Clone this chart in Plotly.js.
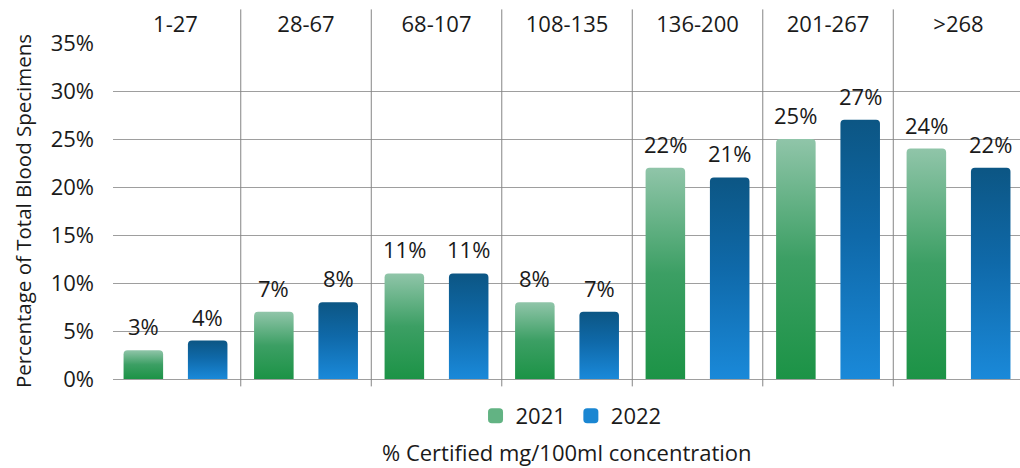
<!DOCTYPE html>
<html>
<head>
<meta charset="utf-8">
<script src="https://cdn.plot.ly/plotly-3.0.1.min.js"></script>
<style>
  html, body { margin: 0; padding: 0; background: #ffffff; }
  #chart { width: 1020px; height: 468px; }
</style>
</head>
<body>
<div id="chart"></div>
<script>
// ---- data ----
const categories = ['1-27', '28-67', '68-107', '108-135', '136-200', '201-267', '>268'];
const values2021 = [3, 7, 11, 8, 22, 25, 24];
const values2022 = [4, 8, 11, 7, 21, 27, 22];
const seriesNames = ['2021', '2022'];
const yTickValues = [0, 5, 10, 15, 20, 25, 30, 35];
const yTickLabels = ['0%', '5%', '10%', '15%', '20%', '25%', '30%', '35%'];
const xAxisTitle = '% Certified mg/100ml concentration';
const yAxisTitle = 'Percentage of Total Blood Specimens';

// ---- style ----
const FONT = 'Open Sans, Noto Sans, sans-serif';
const TEXT = '#1a1a1a';
const BAR_W = 0.303;
const HALF_GAP = 0.095;

const traces = [
  {
    type: 'bar', name: seriesNames[0], x: categories, y: values2021,
    width: BAR_W, offset: -(BAR_W + HALF_GAP),
    marker: { color: '#62b383', cornerradius: 4 },
    hoverinfo: 'skip'
  },
  {
    type: 'bar', name: seriesNames[1], x: categories, y: values2022,
    width: BAR_W, offset: HALF_GAP,
    marker: { color: '#1a86d2', cornerradius: 4 },
    hoverinfo: 'skip'
  }
];

const annotations = [];
const centerShift = BAR_W / 2 + HALF_GAP;
categories.forEach((c, i) => {
  annotations.push({ x: i - centerShift, y: values2021[i], xref: 'x', yref: 'y',
    text: values2021[i] + '%', showarrow: false, yanchor: 'bottom', yshift: 7,
    font: { family: FONT, size: 22, color: TEXT } });
  annotations.push({ x: i + centerShift, y: values2022[i], xref: 'x', yref: 'y',
    text: values2022[i] + '%', showarrow: false, yanchor: 'bottom', yshift: 7,
    font: { family: FONT, size: 22, color: TEXT } });
});
annotations.push({
  xref: 'paper', yref: 'paper', x: 0.5, y: -0.216, xanchor: 'center', yanchor: 'middle',
  text: xAxisTitle, showarrow: false, font: { family: FONT, size: 22, color: TEXT }
});

const shapes = [];
for (let k = 0; k < categories.length - 1; k++) {
  shapes.push({ type: 'line', xref: 'x', yref: 'paper', x0: k + 0.5, x1: k + 0.5,
    y0: -0.022, y1: 1.1, line: { color: '#858585', width: 1 } });
}

const layout = {
  width: 1020, height: 468,
  margin: { l: 113, r: 0, t: 43, b: 89 },
  paper_bgcolor: '#ffffff', plot_bgcolor: '#ffffff',
  font: { family: FONT, size: 22, color: TEXT },
  barmode: 'overlay',
  showlegend: true,
  legend: { orientation: 'h', x: 0.505, xanchor: 'center', y: -0.11, yanchor: 'middle',
    font: { family: FONT, size: 22, color: TEXT }, bgcolor: 'rgba(0,0,0,0)' },
  xaxis: {
    type: 'category', side: 'top', range: [-0.479, 6.471],
    showgrid: false, showline: false, zeroline: false, ticks: '',
    ticklabelstandoff: 6,
    tickfont: { family: FONT, size: 22, color: TEXT }, fixedrange: true
  },
  yaxis: {
    range: [0, 35], tickvals: yTickValues, ticktext: yTickLabels,
    showgrid: true, gridcolor: '#9e9e9e', gridwidth: 1,
    zeroline: true, zerolinecolor: '#9e9e9e', zerolinewidth: 1,
    showline: false, ticks: '', ticklabelstandoff: 18,
    tickfont: { family: FONT, size: 22, color: TEXT },
    title: { text: yAxisTitle, standoff: 13, font: { family: FONT, size: 20.5, color: TEXT } },
    fixedrange: true
  },
  annotations: annotations,
  shapes: shapes
};

function addGradients(gd) {
  const svg = gd.querySelector('svg.main-svg');
  const NS = 'http://www.w3.org/2000/svg';
  let defs = svg.querySelector('defs');
  if (!defs) { defs = document.createElementNS(NS, 'defs'); svg.insertBefore(defs, svg.firstChild); }
  const grads = {
    gGreen: [['0%', '#90c5a9'], ['50%', '#3c9f64'], ['100%', '#1c9346']],
    gBlue: [['0%', '#0c5684'], ['45%', '#0f69a9'], ['100%', '#1a89d9']]
  };
  Object.keys(grads).forEach(id => {
    const lg = document.createElementNS(NS, 'linearGradient');
    lg.setAttribute('id', id);
    lg.setAttribute('x1', '0'); lg.setAttribute('y1', '0');
    lg.setAttribute('x2', '0'); lg.setAttribute('y2', '1');
    grads[id].forEach(([off, col]) => {
      const s = document.createElementNS(NS, 'stop');
      s.setAttribute('offset', off); s.setAttribute('stop-color', col);
      lg.appendChild(s);
    });
    defs.appendChild(lg);
  });
  const barTraces = gd.querySelectorAll('.barlayer .trace.bars');
  barTraces.forEach((t, idx) => {
    const id = idx === 0 ? 'gGreen' : 'gBlue';
    t.querySelectorAll('.point path').forEach(p => { p.style.fill = 'url(#' + id + ')'; });
  });
  // slightly larger legend swatches, as in the reference
  gd.querySelectorAll('.legend .legendpoints path').forEach(p => {
    const tr = p.getAttribute('transform') || '';
    p.setAttribute('transform', tr + ' scale(1.25)');
  });
}

Plotly.newPlot('chart', traces, layout, { displayModeBar: false, staticPlot: true })
  .then(gd => addGradients(gd));
</script>
</body>
</html>
